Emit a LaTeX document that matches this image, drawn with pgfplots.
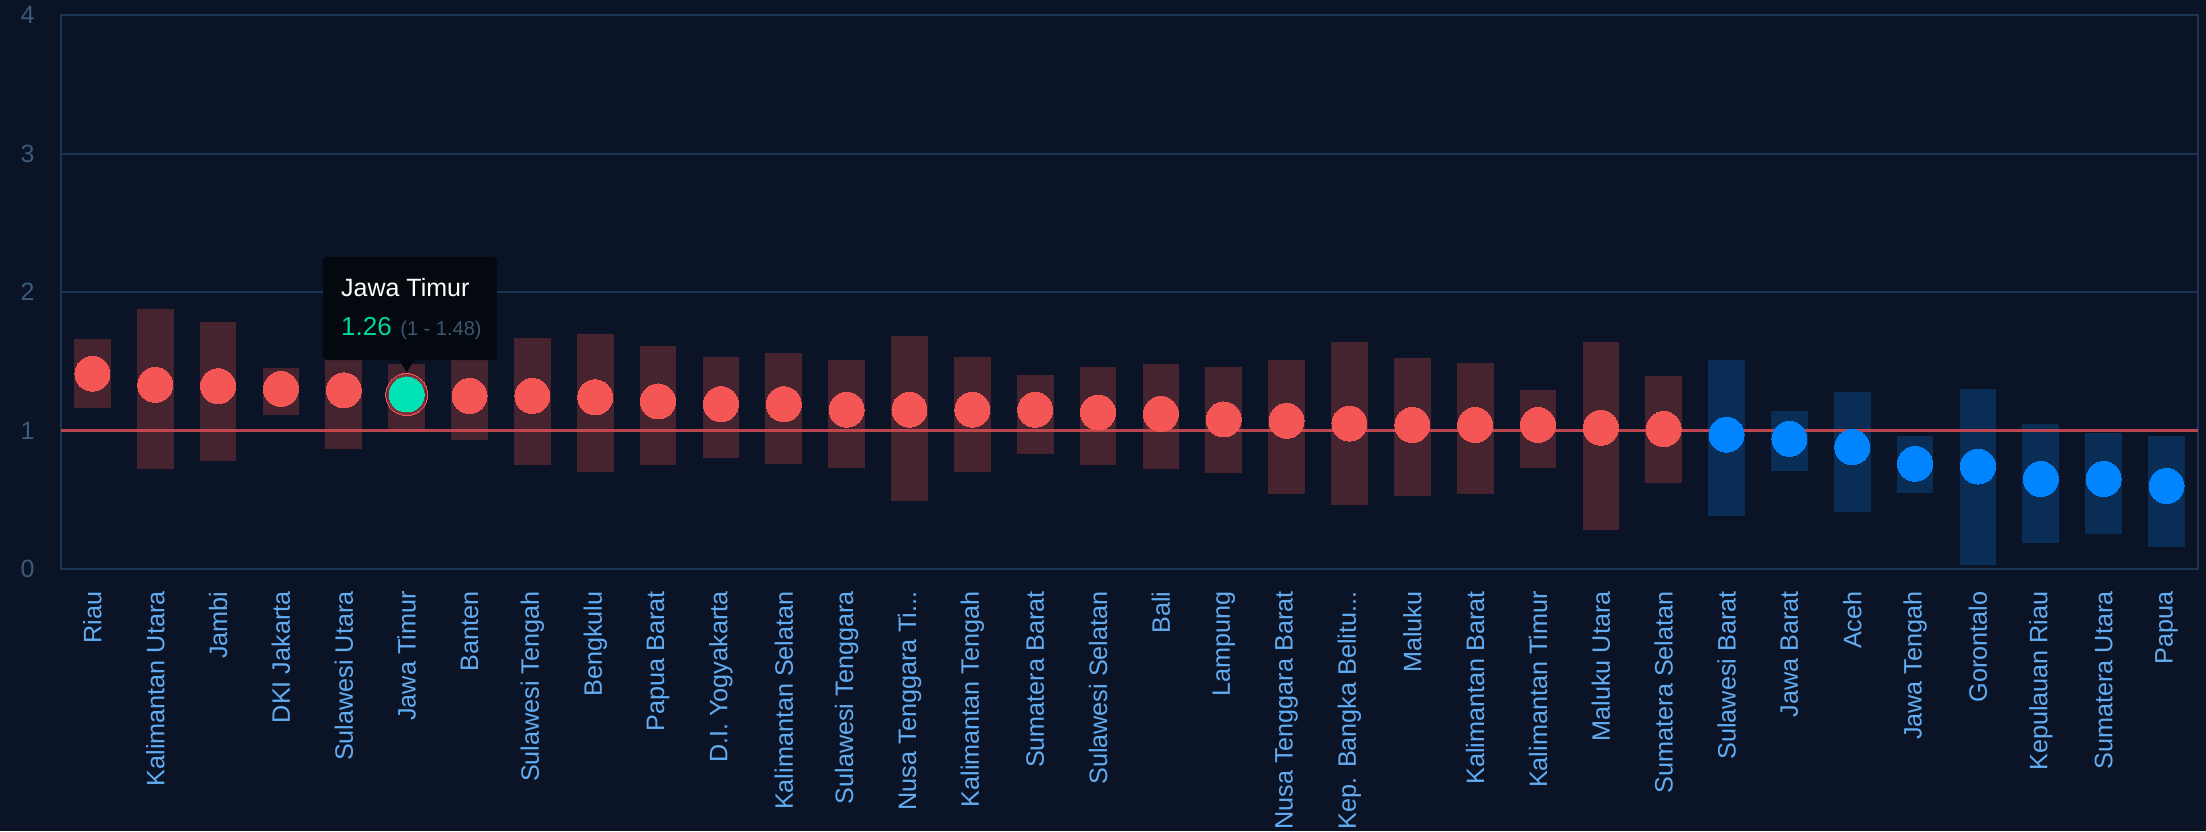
\documentclass[border=0pt]{standalone}
\usepackage{pgfplots}
\pgfplotsset{compat=1.18}
\usepackage{pgfplotstable}
\usepackage{fontspec}
\setmainfont{Liberation Sans}

\definecolor{bg}{HTML}{0B1426}
\definecolor{gridc}{HTML}{1C3553}
\definecolor{redbar}{HTML}{45232F}
\definecolor{reddot}{HTML}{F45656}
\definecolor{bluebar}{HTML}{092D55}
\definecolor{bluedot}{HTML}{0084FF}
\definecolor{greendot}{HTML}{00E3B4}
\definecolor{refline}{HTML}{CF4A51}
\definecolor{ylab}{HTML}{3C5A7A}
\definecolor{xlab}{HTML}{62ACF2}
\definecolor{tipbg}{HTML}{04080F}
\definecolor{tipgreen}{HTML}{00D69E}
\definecolor{tipgray}{HTML}{3E5573}
\newcommand{\tdots}{{.}{.}{.}}

\pgfplotstableread{
idx val lo hi
0 1.41 1.16 1.66
1 1.33 0.72 1.88
2 1.32 0.78 1.78
3 1.30 1.11 1.45
4 1.29 0.87 1.70
5 1.26 1.00 1.48
6 1.25 0.93 1.60
7 1.25 0.75 1.67
8 1.24 0.70 1.70
9 1.21 0.75 1.61
10 1.19 0.80 1.53
11 1.19 0.76 1.56
12 1.15 0.73 1.51
13 1.15 0.49 1.68
14 1.15 0.70 1.53
15 1.15 0.83 1.40
16 1.13 0.75 1.46
17 1.12 0.72 1.48
18 1.08 0.69 1.46
19 1.07 0.54 1.51
20 1.05 0.46 1.64
21 1.04 0.53 1.52
22 1.04 0.54 1.49
23 1.04 0.73 1.29
24 1.02 0.28 1.64
25 1.01 0.62 1.39
}\redtab

\pgfplotstableread{
idx val lo hi
26 0.97 0.38 1.51
27 0.94 0.71 1.14
28 0.88 0.41 1.28
29 0.76 0.55 0.96
30 0.74 0.03 1.30
31 0.65 0.19 1.05
32 0.65 0.25 0.98
33 0.60 0.16 0.96
}\bluetab

\pgfplotstableread{
idx val lo hi
5 1.26 1.00 1.48
}\hovertab

\begin{document}
\begin{tikzpicture}
\fill[bg] (-30.5pt,-131pt) rectangle (1072.5pt,284.5pt);
\begin{axis}[
  at={(0,0)}, anchor=south west,
  scale only axis, width=1068.5pt, height=277pt,
  xmin=-0.5, xmax=33.5, ymin=0, ymax=4,
  xtick={0,1,2,3,4,5,6,7,8,9,10,11,12,13,14,15,16,17,18,19,20,21,22,23,24,25,26,27,28,29,30,31,32,33},
  xticklabels={Riau,Kalimantan Utara,Jambi,DKI Jakarta,Sulawesi Utara,Jawa Timur,Banten,Sulawesi Tengah,Bengkulu,Papua Barat,D.I. Yogyakarta,Kalimantan Selatan,Sulawesi Tenggara,{Nusa Tenggara Ti\tdots},Kalimantan Tengah,Sumatera Barat,Sulawesi Selatan,Bali,Lampung,Nusa Tenggara Barat,{Kep. Bangka Belitu\tdots},Maluku,Kalimantan Barat,Kalimantan Timur,Maluku Utara,Sumatera Selatan,Sulawesi Barat,Jawa Barat,Aceh,Jawa Tengah,Gorontalo,Kepulauan Riau,Sumatera Utara,Papua},
  ytick={0,1,2,3,4},
  axis line style={draw=gridc, line width=1pt},
  ymajorgrids, grid style={draw=gridc, line width=1pt},
  major tick length=0pt,
  /pgf/number format/assume math mode=true,
  xticklabel style={rotate=90, anchor=east, inner sep=0pt, text=xlab, font=\fontsize{12.6}{13}\selectfont},
  xticklabel shift=11pt,
  yticklabel style={anchor=east, inner sep=0pt, text=ylab, font=\fontsize{12.5}{14}\selectfont},
  yticklabel shift=13pt,
]
% range bars
\addplot [only marks, mark=none, error bars/.cd, y dir=both, y explicit, error mark=none,
  error bar style={draw=redbar, line width=18.35pt}]
  table [x=idx, y=val, y error plus expr=\thisrow{hi}-\thisrow{val}, y error minus expr=\thisrow{val}-\thisrow{lo}] {\redtab};
\addplot [only marks, mark=none, error bars/.cd, y dir=both, y explicit, error mark=none,
  error bar style={draw=bluebar, line width=18.35pt}]
  table [x=idx, y=val, y error plus expr=\thisrow{hi}-\thisrow{val}, y error minus expr=\thisrow{val}-\thisrow{lo}] {\bluetab};
% blue dots
\addplot [only marks, color=bluedot, mark=*, mark size=8.75pt, mark options={draw=bluedot, fill=bluedot, line width=0pt}]
  table [x=idx, y=val] {\bluetab};
% reference line
\addplot [draw=refline, line width=1.5pt, opacity=0.9] coordinates {(-0.5,1) (33.5,1)};
% red dots
\addplot [only marks, color=reddot, mark=*, mark size=8.75pt, mark options={draw=reddot, fill=reddot, line width=0pt}]
  table [x=idx, y=val] {\redtab};
% hovered point
\addplot [only marks, color=reddot, mark=*, mark size=10.5pt, mark options={draw=none, fill=reddot, fill opacity=0.35, line width=0pt}]
  table [x=idx, y=val] {\hovertab};
\addplot [only marks, color=greendot, mark=*, mark size=8.75pt, mark options={draw=greendot, fill=greendot, line width=0pt}]
  table [x=idx, y=val] {\hovertab};
% tooltip
\fill[tipbg, rounded corners=2pt] (axis cs:3.669,1.509) rectangle (axis cs:6.437,2.253);
\fill[tipbg] (axis cs:4.865,1.52) -- (axis cs:5,1.418) -- (axis cs:5.135,1.52) -- cycle;
\node[anchor=base west, inner sep=0pt, text=white, font=\fontsize{12.5}{14}\selectfont] at (axis cs:3.952,1.967) {Jawa Timur};
\node[anchor=base west, inner sep=0pt, text=tipgreen, font=\fontsize{13}{14}\selectfont] at (axis cs:3.952,1.685) {1.26};
\node[anchor=base west, inner sep=0pt, text=tipgray, font=\fontsize{10}{12}\selectfont] at (axis cs:4.894,1.685) {(1 - 1.48)};
\end{axis}
\pgfresetboundingbox
\useasboundingbox (-30.5pt,-131pt) rectangle (1072.5pt,284.5pt);
\end{tikzpicture}
\end{document}
